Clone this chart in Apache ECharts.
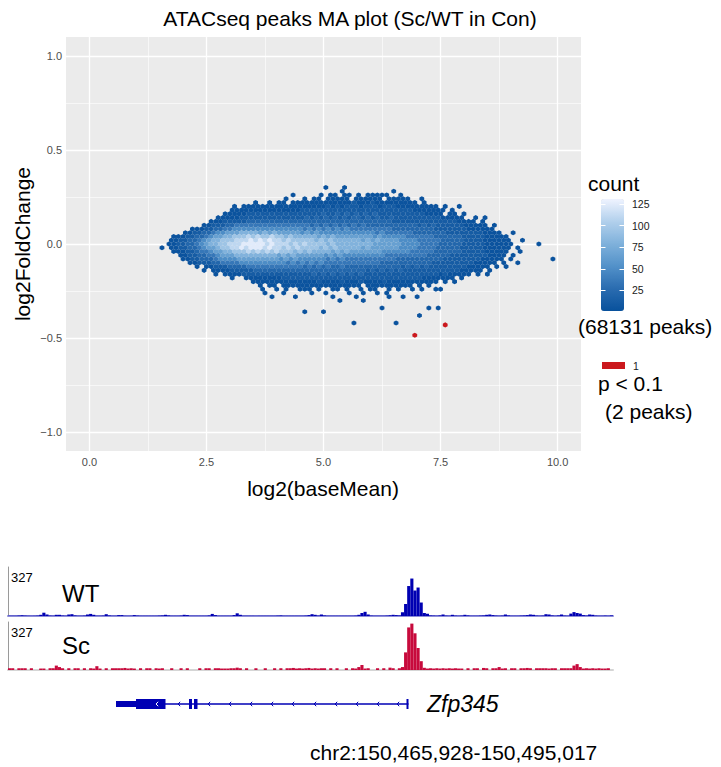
<!DOCTYPE html>
<html><head><meta charset="utf-8">
<script src="https://cdn.jsdelivr.net/npm/echarts@6/dist/echarts.min.js"></script>
<style>html,body{margin:0;padding:0;background:#fff}#c{width:721px;height:767px}</style>
</head><body><div id="c"></div>
<script>
// ---------- MA plot data ----------
// hexbin density: [log2FoldChange row, first log2(baseMean), level string]
// each char = one hex (0.1 apart in log2(baseMean)); '.' = empty
const hexRows = [
  [0.30, 5.05, "1...1"],
  [0.28, 5.4, "1..........1"],
  [0.26, 4.35, "1.....1.11" + ".11.1.1111" + "1..1"],
  [0.24, 4.2, "1...1.11.1" + "1111.11111" + "1.11111..1"],
  [0.22, 3.55, "1..1.11.11" + "1111111111" + "1211121111" + "11111.1."],
  [0.20, 3.1, "1.11111111" + "1111111111" + "2121222122" + "2122211111" + "1111.1..1"],
  [0.18, 3.05, "1111111111" + "1111122222" + "2222222222" + "2222222221" + "111111.1"],
  [0.16, 2.9, "1111122222" + "2222222222" + "2322323232" + "3232222222" + "2221111.11" + ".1"],
  [0.14, 2.75, "1111122222" + "2222222223" + "2323232323" + "3232322322" + "2222222211" + "111..1.1"],
  [0.12, 2.6, "1112222233" + "3333333333" + "3333333333" + "3333333332" + "2222222222" + "2221111.1"],
  [0.10, 2.45, "1122233444" + "4444444444" + "4443434343" + "4343433333" + "3333332323" + "2222221111" + "1.1"],
  [0.08, 2.2, "1112233445" + "5555555555" + "5555454545" + "4545444444" + "4443333333" + "3322222221" + "11111"],
  [0.06, 2.05, "1122334556" + "6677776767" + "6666656565" + "5555555555" + "5454444443" + "3333332222" + "22221111" + "..1"],
  [0.04, 1.8, "1112233456" + "6778889898" + "8988787777" + "7676766666" + "6665655555" + "4444443333" + "3322222111" + "11"],
  [0.02, 1.75, "1122334567" + "7888999a9a" + "9a99898888" + "8787877777" + "7676766665" + "5554444433" + "3332222111" + "111" + "..1"],
  [0.00, 1.7, "1122334567" + "788999aaaa" + "a9a9998989" + "8888787777" + "7777666666" + "5555444433" + "3332222211" + "1111" + ".....1"],
  [-0.02, 1.55, "1.11223345" + "6678899a9a" + "aa9a998989" + "8888787877" + "7776766666" + "6555544443" + "3333222221" + "11111" + ".1"],
  [-0.04, 1.8, "1112234456" + "6778889898" + "9898887878" + "7777676766" + "6666655555" + "5444443333" + "3322222111" + "11" + "..1"],
  [-0.06, 1.95, "1122334456" + "6677777777" + "7676766666" + "6565655555" + "5555444444" + "4443333322" + "2222221111" + ".1"],
  [-0.08, 2.0, "1122333455" + "5566666666" + "6565655555" + "5454544444" + "4444443333" + "3333332222" + "222211111" + ".1........1"],
  [-0.10, 2.15, "1122233444" + "4555555555" + "5454545454" + "4444444444" + "4333333333" + "3322222222" + "211111" + ".1..1"],
  [-0.12, 2.3, "1.11222333" + "3444444444" + "4443434343" + "3433333333" + "3333232323" + "2222222211" + "111" + ".1.1"],
  [-0.14, 2.45, "1.11112222" + "2333333333" + "3333333333" + "3333323232" + "3232222222" + "2222211111" + ".1"],
  [-0.16, 2.7, "1.11112222" + "2222222222" + "2323232323" + "2322222222" + "2222222212" + "11111" + ".1.1"],
  [-0.18, 3.05, "1..1111111" + "1222222222" + "2222222222" + "2222222222" + "21111111" + ".1"],
  [-0.20, 3.5, "1111111111" + "1111211112" + "1112111121" + "1111111111" + ".1.1"],
  [-0.22, 3.65, "1.11.11111" + "1111111111" + "11.1111111" + "111.1.1"],
  [-0.24, 3.7, "1..1.1..11" + "1.1..11.1." + ".1.11..1.1" + "..1.1..11"],
  [-0.26, 3.75, "1...1.....1..1....1..1..1.1"],
  [-0.28, 3.9, "1....1.......1....1......1..1..1"],
  [-0.30, 5.35, "1....1"],
  [-0.34, 6.25, "1.........1.1"],
  [-0.36, 4.6, "1...1"],
  [-0.38, 7.05, "1"],
  [-0.42, 5.65, "1........1"]
];
// count represented by each level character
const levelCounts = {"1": 3, "2": 12, "3": 22, "4": 35, "5": 50, "6": 65, "7": 80, "8": 95, "9": 110, "a": 125};
const hexStep = 0.1;
// significant peaks (p < 0.1)
const sigBaseMean = [6.95, 7.6];
const sigLogFC = [-0.485, -0.43];

const xTicks = [0, 2.5, 5, 7.5, 10];
const xMinor = [1.25, 3.75, 6.25, 8.75];
const yTicks = [-1, -0.5, 0, 0.5, 1];
const yMinor = [-0.75, -0.25, 0.25, 0.75];
const countTicks = [25, 50, 75, 100, 125];
const countRange = [1, 131];

// ---------- genome tracks (150 bp bins over chr2:150,465,928-150,495,017) ----------
const regionLength = 29089;
const wtCoverage = [
  2,2,2,3,5,3,2,2,2,3,
  8,22,10,3,2,8,8,3,2,10,
  12,4,2,2,3,10,14,8,2,2,
  3,12,4,2,2,6,6,2,2,2,
  6,3,2,2,2,2,2,2,3,4,
  8,4,2,2,2,3,8,6,2,2,
  2,2,2,2,4,14,6,2,2,2,
  2,2,6,18,8,2,2,2,2,2,
  2,2,2,2,2,2,3,4,2,2,
  2,2,2,2,2,3,6,12,8,3,
  10,4,2,2,2,2,2,2,2,2,
  2,3,8,20,28,10,3,2,2,2,
  2,3,5,8,6,4,25,80,200,250,
  170,190,90,20,15,4,3,2,4,10,
  3,2,8,3,2,3,8,4,2,2,
  2,3,4,8,10,6,3,2,3,10,
  4,2,2,2,3,4,6,10,8,3,
  2,3,12,10,4,2,4,10,3,2,
  16,26,20,16,6,3,10,8,3,2,
  2,3,2,4
];
const scCoverage = [
  12,12,0,12,12,12,0,12,0,0,
  10,10,0,12,12,30,20,12,0,12,
  0,12,12,0,12,0,12,10,26,10,
  0,12,0,12,12,12,12,14,10,12,
  10,0,12,0,12,12,0,12,10,12,
  0,0,12,0,0,12,0,12,0,0,
  0,12,0,12,12,0,12,12,10,10,
  10,12,12,16,12,0,12,0,0,12,
  0,0,12,0,0,12,0,12,0,12,
  12,14,10,12,10,12,14,10,12,10,
  12,12,0,12,0,12,0,0,12,0,
  12,10,20,34,10,12,0,0,12,0,
  12,0,16,12,0,12,20,120,290,316,
  250,150,60,15,10,12,10,12,10,12,
  10,12,10,12,10,10,0,12,0,12,
  12,0,14,12,0,12,12,20,10,12,
  0,12,12,0,12,12,14,12,0,12,
  12,12,12,10,12,12,0,12,12,12,
  12,30,40,20,10,12,10,12,10,12,
  10,10,12,0
];
const trackMax = 327;
// gene model Zfp345 (bp offsets within region): [start, end, kind] kind 0 = UTR, 1 = coding
const geneExons = [[5193, 6154, 0], [6154, 7573, 1], [8703, 8847, 1], [8943, 9111, 1], [19160, 19256, 1]];
const geneSpan = [5193, 19256];
const geneChevrons = [7164, 8222, 9664, 10674, 11684, 12694, 13703, 14761, 15771, 16781, 17790, 18752];

// ---------- build ----------
const hexData = [];
hexRows.forEach(([y, x0, s]) => {
  for (let i = 0; i < s.length; i++) {
    const ch = s[i];
    if (ch === '.') continue;
    hexData.push([+(x0 + hexStep * i).toFixed(3), y, levelCounts[ch]]);
  }
});
const sigData = sigBaseMean.map((x, i) => [x, sigLogFC[i]]);
const binCats = wtCoverage.map((_, i) => i);

const FONT = "'Liberation Sans', Arial, Helvetica, sans-serif";
const HEX = 'path://M0,-1L0.866,-0.5L0.866,0.5L0,1L-0.866,0.5L-0.866,-0.5Z';
const GENE = '#0000B4';
const fmt1 = v => (v < 0 ? '\u2212' : '') + Math.abs(v).toFixed(1);

const gridLineData = []
  .concat(xTicks.map(v => ({xAxis: v, lineStyle: {width: 1.3}})))
  .concat(xMinor.map(v => ({xAxis: v, lineStyle: {width: 0.6}})))
  .concat(yTicks.map(v => ({yAxis: v, lineStyle: {width: 1.3}})))
  .concat(yMinor.map(v => ({yAxis: v, lineStyle: {width: 0.6}})));

function txt(x, y, text, size, extra) {
  return Object.assign({type: 'text', x: x, y: y, silent: true,
    style: Object.assign({text: text, fontSize: size, fontFamily: FONT, fill: '#000',
      textVerticalAlign: 'middle', verticalAlign: 'middle'}, extra || {})});
}

const chart = echarts.init(document.getElementById('c'), null, {renderer: 'svg'});
chart.setOption({
  animation: false,
  backgroundColor: '#ffffff',
  grid: [
    {left: 66, top: 37, width: 515, height: 414, show: true, backgroundColor: '#EBEBEB', borderWidth: 0, containLabel: false, outerBoundsMode: 'none'},
    {left: 8, top: 567, width: 605, height: 49, containLabel: false, outerBoundsMode: 'none'},
    {left: 8, top: 622, width: 605, height: 48, containLabel: false, outerBoundsMode: 'none'},
    {left: 8, top: 694, width: 605, height: 20, containLabel: false, outerBoundsMode: 'none'},
    {left: 601, top: 199, width: 23, height: 112, containLabel: false, outerBoundsMode: 'none'}
  ],
  xAxis: [
    {gridIndex: 0, type: 'value', min: -0.5, max: 10.5,
      axisLine: {show: false},
      axisTick: {show: true, customValues: xTicks, length: 3, lineStyle: {color: '#333333', width: 1}},
      axisLabel: {show: true, customValues: xTicks, formatter: fmt1, color: '#4D4D4D', fontSize: 11, fontFamily: FONT, margin: 5},
      splitLine: {show: false}},
    {gridIndex: 1, type: 'category', data: binCats, boundaryGap: true,
      axisLine: {show: true, lineStyle: {color: '#8C8CD8', width: 2}}, axisTick: {show: false}, axisLabel: {show: false}},
    {gridIndex: 2, type: 'category', data: binCats, boundaryGap: true,
      axisLine: {show: true, lineStyle: {color: '#D5D5D5', width: 2}}, axisTick: {show: false}, axisLabel: {show: false}},
    {gridIndex: 3, type: 'value', min: 0, max: regionLength, show: false},
    {gridIndex: 4, type: 'value', min: 0, max: 1, show: false}
  ],
  yAxis: [
    {gridIndex: 0, type: 'value', min: -1.1, max: 1.1,
      axisLine: {show: false},
      axisTick: {show: true, customValues: yTicks, length: 3, lineStyle: {color: '#333333', width: 1}},
      axisLabel: {show: true, customValues: yTicks, formatter: fmt1, color: '#4D4D4D', fontSize: 11, fontFamily: FONT, margin: 4},
      splitLine: {show: false}},
    {gridIndex: 1, type: 'value', min: 0, max: trackMax,
      axisLine: {show: true, lineStyle: {color: '#9A9A9A', width: 1}}, axisTick: {show: false}, axisLabel: {show: false}, splitLine: {show: false}},
    {gridIndex: 2, type: 'value', min: 0, max: trackMax,
      axisLine: {show: true, lineStyle: {color: '#9A9A9A', width: 1}}, axisTick: {show: false}, axisLabel: {show: false}, splitLine: {show: false}},
    {gridIndex: 3, type: 'value', min: -1, max: 1, show: false},
    {gridIndex: 4, type: 'value', min: countRange[0], max: countRange[1], position: 'left', z: 10,
      axisLine: {show: false},
      axisTick: {show: true, inside: true, customValues: countTicks, length: 4.5, lineStyle: {color: '#ffffff', width: 1}},
      axisLabel: {show: false}, splitLine: {show: false}},
    {gridIndex: 4, type: 'value', min: countRange[0], max: countRange[1], position: 'right', z: 10,
      axisLine: {show: false},
      axisTick: {show: true, inside: true, customValues: countTicks, length: 4.5, lineStyle: {color: '#ffffff', width: 1}},
      axisLabel: {show: true, customValues: countTicks, color: '#1A1A1A', fontSize: 10.5, fontFamily: FONT, margin: 8},
      splitLine: {show: false}}
  ],
  visualMap: [{
    type: 'continuous', seriesIndex: 0, dimension: 2,
    min: countRange[0], max: countRange[1],
    show: true, calculable: false, hoverLink: false, realtime: false,
    left: 601, top: 199, itemWidth: 23, itemHeight: 112, padding: 0,
    inRange: {color: ['#08519C', '#2A6CB0', '#5291C9', '#7FB1DB', '#B2D0EC', '#EFF3FF']},
    textStyle: {color: 'transparent'}
  }],
  series: [
    {type: 'scatter', xAxisIndex: 0, yAxisIndex: 0, data: hexData, symbol: HEX, symbolSize: [4.8, 5.1],
      z: 3, silent: true, progressive: 0, large: false, itemStyle: {opacity: 1}},
    {type: 'line', xAxisIndex: 0, yAxisIndex: 0, data: [], z: 1, silent: true,
      markLine: {silent: true, z: 1, symbol: ['none', 'none'], label: {show: false}, animation: false,
        lineStyle: {color: '#FFFFFF', type: 'solid'}, emphasis: {disabled: true}, data: gridLineData}},
    {type: 'scatter', xAxisIndex: 0, yAxisIndex: 0, data: sigData, symbol: HEX, symbolSize: [4.8, 5.1],
      z: 4, silent: true, itemStyle: {color: '#CB181D', opacity: 1}},
    {type: 'bar', xAxisIndex: 1, yAxisIndex: 1, data: wtCoverage, barCategoryGap: '0%', barGap: '0%',
      itemStyle: {color: '#0000B2'}, silent: true},
    {type: 'bar', xAxisIndex: 2, yAxisIndex: 2, data: scCoverage, barCategoryGap: '0%', barGap: '0%',
      itemStyle: {color: '#C70A3C'}, silent: true},
    {type: 'custom', xAxisIndex: 3, yAxisIndex: 3, data: [geneSpan], silent: true, z: 2,
      renderItem: function (params, api) {
        const a = api.coord([api.value(0), 0]), b = api.coord([api.value(1), 0]);
        return {type: 'line', shape: {x1: a[0], y1: a[1], x2: b[0], y2: b[1]}, style: {stroke: GENE, lineWidth: 1.5}};
      }},
    {type: 'custom', xAxisIndex: 3, yAxisIndex: 3, data: geneExons, silent: true, z: 3,
      renderItem: function (params, api) {
        const a = api.coord([api.value(0), 0]), b = api.coord([api.value(1), 0]);
        const h = api.value(2) === 0 ? 6 : 10;
        return {type: 'rect', shape: {x: a[0], y: a[1] - h / 2, width: Math.max(b[0] - a[0], 1.5), height: h}, style: {fill: GENE}};
      }},
    {type: 'custom', xAxisIndex: 3, yAxisIndex: 3, data: geneChevrons.map(p => [p]), silent: true, z: 4,
      renderItem: function (params, api) {
        const v = api.value(0);
        const p = api.coord([v, 0]);
        const inside = geneExons.some(e => e[2] === 1 && v >= e[0] && v <= e[1]);
        return {type: 'polyline', shape: {points: [[p[0] + 1.2, p[1] - 2.2], [p[0] - 1, p[1]], [p[0] + 1.2, p[1] + 2.2]]},
          style: {stroke: inside ? '#FFFFFF' : GENE, lineWidth: 1, fill: null}};
      }}
  ],
  graphic: [
    txt(350, 18, 'ATACseq peaks MA plot (Sc/WT in Con)', 21, {textAlign: 'center', align: 'center'}),
    txt(323, 488, 'log2(baseMean)', 21, {textAlign: 'center', align: 'center'}),
    Object.assign(txt(22, 244, 'log2FoldChange', 21, {textAlign: 'center', align: 'center'}), {rotation: Math.PI / 2}),
    txt(588, 183, 'count', 21),
    txt(578, 326, '(68131 peaks)', 21),
    {type: 'rect', silent: true, shape: {x: 602, y: 362, width: 23, height: 7}, style: {fill: '#CB181D'}},
    txt(633, 366, '1', 10.5, {fill: '#1A1A1A'}),
    txt(598, 383, 'p < 0.1', 21),
    txt(605, 411, '(2 peaks)', 21),
    txt(11, 577, '327', 13),
    txt(62, 593, 'WT', 24),
    txt(11, 632, '327', 13),
    txt(62, 645, 'Sc', 24),
    txt(427, 704, 'Zfp345', 23, {fontStyle: 'italic'}),
    txt(310, 752, 'chr2:150,465,928-150,495,017', 21)
  ]
});
</script></body></html>
